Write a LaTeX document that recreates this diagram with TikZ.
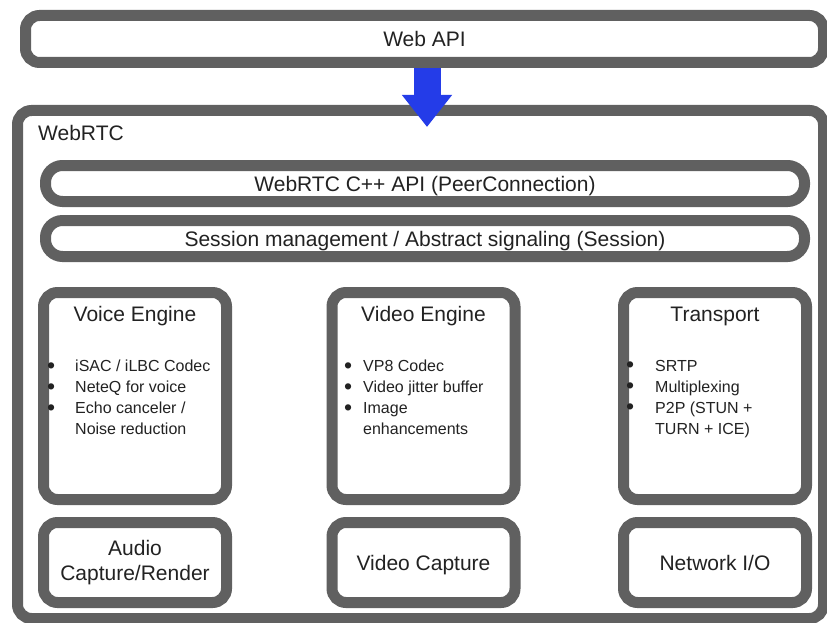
\documentclass[tikz,border=0pt]{standalone}
\usepackage{fontspec}
\setmainfont{Liberation Sans}
\usetikzlibrary{arrows.meta}
\definecolor{bordergray}{RGB}{96,96,96}
\definecolor{arrowblue}{RGB}{36,60,232}
\definecolor{txt}{RGB}{34,34,34}
\tikzset{
  box/.style={draw=bordergray, line width=11pt, rounded corners=14pt, fill=white, inner sep=0pt},
  bar/.style={box, rounded corners=17pt},
  bigfont/.style={font=\fontsize{21}{25}\selectfont, text=txt},
  big/.style={bigfont, text height=15pt, text depth=0pt},
  small/.style={font=\fontsize{16}{21}\selectfont, text=txt, align=left, inner sep=0pt, anchor=north west},
  engine/.style={box, minimum width=183pt, minimum height=207pt},
  lower/.style={box, minimum width=183pt, minimum height=80pt},
}
\newcommand\bitem[2]{\makebox[#1][l]{\raisebox{-1.5pt}{\fontsize{23}{21}\selectfont\textbullet}}#2}
\begin{document}
\begin{tikzpicture}[x=1pt,y=-1pt]
\useasboundingbox (0,0) rectangle (827,623);
\fill[white] (0,0) rectangle (827,623);

\node[box, big, minimum width=798pt, minimum height=47pt] (webapi) at (424.5,39) {Web API};
\node[box, minimum width=806pt, minimum height=508pt] (webrtc) at (420.5,364.5) {};
\node[big, anchor=west, inner sep=0pt] (webrtclbl) at (38,133) {WebRTC};

\coordinate (ax) at (427,0);
\draw[arrowblue, line width=27pt, -{Triangle[length=32pt,width=48pt]}] (ax |- webapi.south) -- ([yshift=-22pt]ax |- webrtc.north);

\node[bar, big, minimum width=759pt, minimum height=36pt] (cpp) at (425,183.5) {WebRTC C++ API (PeerConnection)};
\node[bar, big, minimum width=759pt, minimum height=36pt] (session) at (425,238.5) {Session management / Abstract signaling (Session)};

\node[engine] (voice) at (135,396) {};
\node[big] (voicettl) at (135,314) {Voice Engine};
\node[small] (voicelist) at (47,360) {\bitem{28pt}{iSAC / iLBC Codec}\\ \bitem{28pt}{NeteQ for voice}\\ \bitem{28pt}{Echo canceler /}\\ \hspace*{28pt}Noise reduction};

\node[engine] (video) at (423.5,396) {};
\node[big] (videottl) at (423.5,314) {Video Engine};
\node[small] (videolist) at (344,360) {\bitem{19pt}{VP8 Codec}\\ \bitem{19pt}{Video jitter buffer}\\ \bitem{19pt}{Image}\\ \hspace*{19pt}enhancements};

\node[engine] (transport) at (715,396) {};
\node[big] (transportttl) at (715,314) {Transport};
\node[small] (transportlist) at (626,360) {\bitem{29pt}{SRTP}\\ \bitem{29pt}{Multiplexing}\\ \bitem{29pt}{P2P (STUN +}\\ \hspace*{29pt}TURN + ICE)};

\node[lower, bigfont, align=center] (audio) at (135,562.5) {Audio\\Capture/Render};
\node[lower, big] (vcap) at (423.5,562.5) {Video Capture};
\node[lower, big] (netio) at (715,562.5) {Network I/O};
\end{tikzpicture}
\end{document}
